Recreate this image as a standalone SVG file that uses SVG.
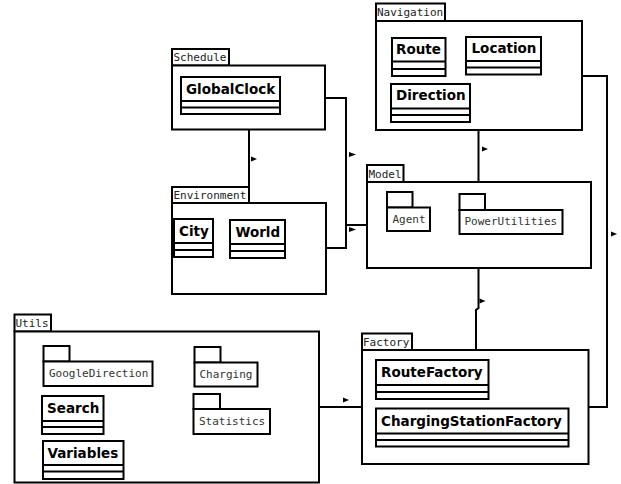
<svg xmlns="http://www.w3.org/2000/svg" width="621" height="484" viewBox="0 0 621 484">
<style>
.box{fill:#fff;stroke:#000;stroke-width:2}
.cls{fill:#fff;stroke:#000;stroke-width:2}
.ln{stroke:#000;stroke-width:2;fill:none}
.tab{font-family:"DejaVu Sans Mono",monospace;font-size:11px;fill:#222}
.pk{font-family:"DejaVu Sans Mono",monospace;font-size:11px;fill:#333}
.cn{font-family:"DejaVu Sans",sans-serif;font-weight:bold;font-size:13.5px;fill:#000}
.arr{fill:#000}
</style>
<rect width="621" height="484" fill="#fff"/>
<g id="connectors">
<polyline class="ln" points="249,130 249,187"/>
<polygon class="arr" points="251,156.5 257,159 251,161.5"/>
<polyline class="ln" points="325,98 346,98 346,225 367,225"/>
<polyline class="ln" points="326,248 346,248 346,225"/>
<polygon class="arr" points="349,152 356,154.5 349,157"/>
<polygon class="arr" points="349,227 356,229.5 349,232"/>
<polyline class="ln" points="478.5,130 478.5,182"/>
<polygon class="arr" points="482,146.5 488,149 482,151.5"/>
<polyline class="ln" points="478.5,268 478.5,308 476,310 476,350"/>
<polygon class="arr" points="479.5,298.5 485.5,301 479.5,303.5"/>
<polyline class="ln" points="582,76 607,76 607,407 589,407"/>
<polygon class="arr" points="611,231.5 617,234 611,236.5"/>
<polyline class="ln" points="319,407 362,407"/>
<polygon class="arr" points="343,397.5 349,400 343,402.5"/>
</g>
<g id="Schedule">
<rect class="box" x="172" y="49" width="57" height="16.5"/>
<text class="tab" x="173.5" y="61">Schedule</text>
<rect class="box" x="172" y="65.5" width="153" height="64"/>
<g id="GlobalClock">
<rect class="cls" x="181" y="77" width="99" height="37"/>
<line class="ln" x1="181" y1="101" x2="280" y2="101"/>
<line class="ln" x1="181" y1="107.5" x2="280" y2="107.5"/>
<text class="cn" x="186" y="93.5">GlobalClock</text>
</g>
</g>
<g id="Environment">
<rect class="box" x="172" y="187" width="77" height="16"/>
<text class="tab" x="173.5" y="199">Environment</text>
<rect class="box" x="172" y="203" width="154" height="91"/>
<g id="City">
<rect class="cls" x="174" y="219" width="39" height="38"/>
<line class="ln" x1="174" y1="243" x2="213" y2="243"/>
<line class="ln" x1="174" y1="250" x2="213" y2="250"/>
<text class="cn" x="179" y="236">City</text>
</g>
<g id="World">
<rect class="cls" x="230" y="220" width="55" height="38"/>
<line class="ln" x1="230" y1="244" x2="285" y2="244"/>
<line class="ln" x1="230" y1="251" x2="285" y2="251"/>
<text class="cn" x="235.5" y="236.5">World</text>
</g>
</g>
<g id="Navigation">
<rect class="box" x="376" y="3.5" width="69" height="17.5"/>
<text class="tab" x="377" y="16">Navigation</text>
<rect class="box" x="376" y="21" width="206" height="109"/>
<g id="Route">
<rect class="cls" x="392" y="38" width="53.5" height="38"/>
<line class="ln" x1="392" y1="61.5" x2="445.5" y2="61.5"/>
<line class="ln" x1="392" y1="69" x2="445.5" y2="69"/>
<text class="cn" x="396" y="53.5">Route</text>
</g>
<g id="Location">
<rect class="cls" x="466" y="37" width="75" height="37.5"/>
<line class="ln" x1="466" y1="61" x2="541" y2="61"/>
<line class="ln" x1="466" y1="67.5" x2="541" y2="67.5"/>
<text class="cn" x="471.5" y="53">Location</text>
</g>
<g id="Direction">
<rect class="cls" x="391" y="84" width="79" height="38"/>
<line class="ln" x1="391" y1="108.5" x2="470" y2="108.5"/>
<line class="ln" x1="391" y1="115" x2="470" y2="115"/>
<text class="cn" x="396" y="100">Direction</text>
</g>
</g>
<g id="Model">
<rect class="box" x="367" y="165" width="36.5" height="17"/>
<text class="tab" x="368.5" y="177.5">Model</text>
<rect class="box" x="367" y="182" width="224" height="86"/>
<g id="Agent">
<rect class="cls" x="387" y="192" width="25.5" height="15.5"/>
<rect class="cls" x="387" y="207.5" width="43" height="23.5"/>
<text class="pk" x="392.5" y="223">Agent</text>
</g>
<g id="PowerUtilities">
<rect class="cls" x="459.5" y="194" width="25.5" height="16"/>
<rect class="cls" x="459.5" y="210" width="103" height="24"/>
<text class="pk" x="464.5" y="225">PowerUtilities</text>
</g>
</g>
<g id="Factory">
<rect class="box" x="362" y="333.5" width="50" height="16.5"/>
<text class="tab" x="363" y="346">Factory</text>
<rect class="box" x="362" y="350" width="226.5" height="114"/>
<g id="RouteFactory">
<rect class="cls" x="376" y="360" width="112.5" height="39"/>
<line class="ln" x1="376" y1="385" x2="488.5" y2="385"/>
<line class="ln" x1="376" y1="392" x2="488.5" y2="392"/>
<text class="cn" x="381" y="377">RouteFactory</text>
</g>
<g id="ChargingStationFactory">
<rect class="cls" x="376" y="408.5" width="192.5" height="38"/>
<line class="ln" x1="376" y1="433.5" x2="568.5" y2="433.5"/>
<line class="ln" x1="376" y1="440" x2="568.5" y2="440"/>
<text class="cn" x="381" y="425.5">ChargingStationFactory</text>
</g>
</g>
<g id="Utils">
<rect class="box" x="14.5" y="314.5" width="36.5" height="17"/>
<text class="tab" x="15.5" y="327">Utils</text>
<rect class="box" x="14.5" y="331.5" width="304.5" height="151"/>
<g id="GoogleDirection">
<rect class="cls" x="43.5" y="346" width="26" height="15.5"/>
<rect class="cls" x="43.5" y="361.5" width="109" height="24.5"/>
<text class="pk" x="49" y="377">GoogleDirection</text>
</g>
<g id="Charging">
<rect class="cls" x="194.5" y="347" width="26" height="15.5"/>
<rect class="cls" x="194.5" y="362.5" width="63" height="24"/>
<text class="pk" x="199.5" y="377.5">Charging</text>
</g>
<g id="Statistics">
<rect class="cls" x="193.5" y="394" width="26.5" height="15"/>
<rect class="cls" x="193.5" y="409" width="76.5" height="25"/>
<text class="pk" x="199" y="425">Statistics</text>
</g>
<g id="Search">
<rect class="cls" x="42" y="396" width="61.5" height="38"/>
<line class="ln" x1="42" y1="421" x2="103.5" y2="421"/>
<line class="ln" x1="42" y1="427" x2="103.5" y2="427"/>
<text class="cn" x="47" y="412.5">Search</text>
</g>
<g id="Variables">
<rect class="cls" x="43" y="441" width="80.5" height="38"/>
<line class="ln" x1="43" y1="465" x2="123.5" y2="465"/>
<line class="ln" x1="43" y1="471.5" x2="123.5" y2="471.5"/>
<text class="cn" x="47.5" y="457.5">Variables</text>
</g>
</g>
</svg>
